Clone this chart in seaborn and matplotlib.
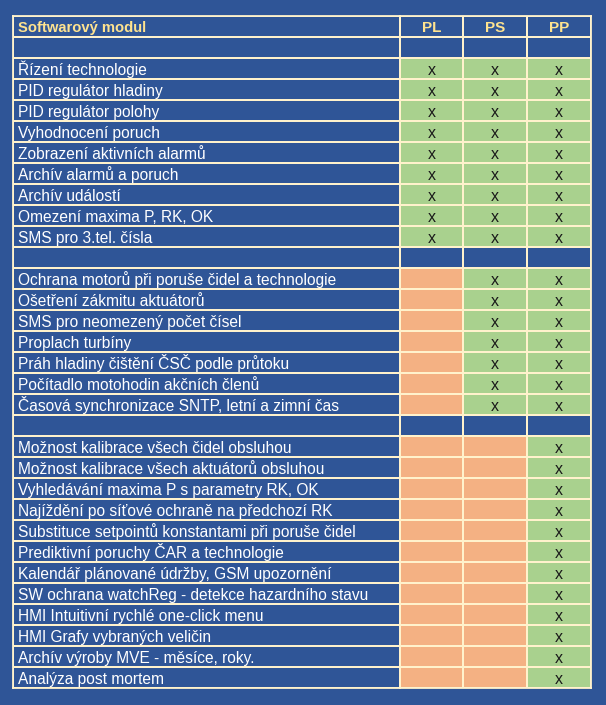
import numpy as np
import pandas as pd
import matplotlib
matplotlib.use("Agg")
import matplotlib.pyplot as plt
import matplotlib.transforms as mtrans
from matplotlib.colors import ListedColormap
import seaborn as sns

sns.set_theme(style="white")
plt.rcParams['font.family'] = ['Liberation Sans', 'DejaVu Sans']

# ---- data ----
header = "Softwarový modul"
columns = ["PL", "PS", "PP"]
labels = [
    "",
    "Řízení technologie",
    "PID regulátor hladiny",
    "PID regulátor polohy",
    "Vyhodnocení poruch",
    "Zobrazení aktivních alarmů",
    "Archív alarmů a poruch",
    "Archív událostí",
    "Omezení maxima P, RK, OK",
    "SMS pro 3.tel. čísla",
    "",
    "Ochrana motorů při poruše čidel a technologie",
    "Ošetření zákmitu aktuátorů",
    "SMS pro neomezený počet čísel",
    "Proplach turbíny",
    "Práh hladiny čištění ČSČ podle průtoku",
    "Počítadlo motohodin akčních členů",
    "Časová synchronizace SNTP, letní a zimní čas",
    "",
    "Možnost kalibrace všech čidel obsluhou",
    "Možnost kalibrace všech aktuátorů obsluhou",
    "Vyhledávání maxima P s parametry RK, OK",
    "Najíždění po síťové ochraně na předchozí RK",
    "Substituce setpointů konstantami při poruše čidel",
    "Prediktivní poruchy ČAR a technologie",
    "Kalendář plánované údržby, GSM upozornění",
    "SW ochrana watchReg - detekce hazardního stavu",
    "HMI Intuitivní rychlé one-click menu",
    "HMI Grafy vybraných veličin",
    "Archív výroby MVE - měsíce, roky.",
    "Analýza post mortem",
]
# "x" = included, "-" = not included, "" = section separator
PL = [""] + ["x"] * 9 + [""] + ["-"] * 7 + [""] + ["-"] * 12
PS = [""] + ["x"] * 9 + [""] + ["x"] * 7 + [""] + ["-"] * 12
PP = [""] + ["x"] * 9 + [""] + ["x"] * 7 + [""] + ["x"] * 12

# ---- styling ----
BLUE = "#2F5597"
GREEN = "#A9D18E"
ORANGE = "#F4B183"
LINE = "#FFF2CC"
HEAD = "#FFE38F"

code = {"": 0, "x": 1, "-": 2}
status = pd.DataFrame({"PL": PL, "PS": PS, "PP": PP})
codes = status.apply(lambda col: col.map(code)).astype(int)
codes = pd.concat([pd.DataFrame([[0, 0, 0]], columns=columns), codes], ignore_index=True)
cmap = ListedColormap([BLUE, GREEN, ORANGE])

W, H = 606, 705
fig = plt.figure(figsize=(W / 100, H / 100), dpi=100)
fig.patch.set_facecolor(BLUE)

top, bottom = 16, 688
x0, x1, x2 = 13, 399.5, 591
axL = fig.add_axes([x0 / W, 1 - bottom / H, (x1 - x0) / W, (bottom - top) / H])
axD = fig.add_axes([x1 / W, 1 - bottom / H, (x2 - x1) / W, (bottom - top) / H])

nrows = len(codes)
lw = 1.3
sns.heatmap(np.zeros((nrows, 1)), ax=axL, cmap=ListedColormap([BLUE]), cbar=False,
            linewidths=lw, linecolor=LINE, xticklabels=False, yticklabels=False)
sns.heatmap(codes.values, ax=axD, cmap=cmap, vmin=-0.5, vmax=2.5, cbar=False,
            linewidths=lw, linecolor=LINE, xticklabels=False, yticklabels=False)

for ax in (axL, axD):
    for s in ax.spines.values():
        s.set_visible(True)
        s.set_color(LINE)
        s.set_linewidth(lw)

fs = 11.2
pad = 5 / (x1 - x0)
trL = mtrans.blended_transform_factory(axL.transAxes, axL.transData)
axL.text(pad, 0.76, header, ha="left", va="baseline", fontsize=10.6, fontweight="bold",
         color=HEAD, transform=trL)
for i, lab in enumerate(labels):
    if lab:
        axL.text(pad, i + 1.8, lab, ha="left", va="baseline", fontsize=fs, color="white", transform=trL)

for j, c in enumerate(columns):
    axD.text(j + 0.5, 0.78, c, ha="center", va="baseline", fontsize=11, fontweight="bold", color=HEAD)
    for i, v in enumerate(status[c]):
        if v == "x":
            axD.text(j + 0.5, i + 1.8, "x", ha="center", va="baseline", fontsize=11.5, color="#1a1a1a")

fig.savefig("out.png", dpi=100, facecolor=BLUE)
